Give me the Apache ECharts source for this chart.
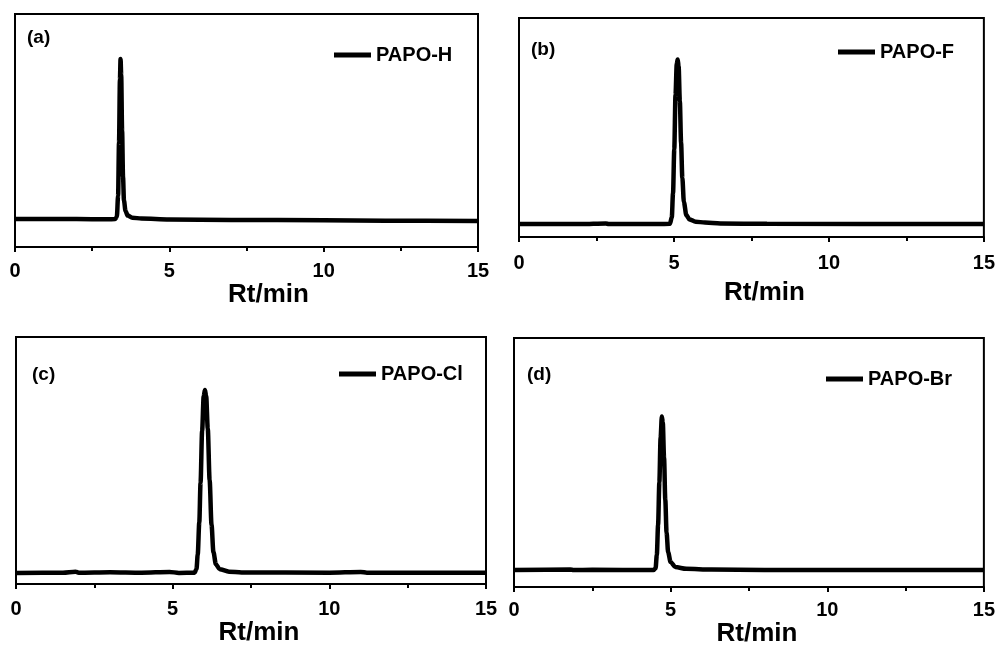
<!DOCTYPE html>
<html>
<head>
<meta charset="utf-8">
<script src="https://cdn.jsdelivr.net/npm/echarts@6/dist/echarts.min.js"></script>
<style>
html,body{margin:0;padding:0;background:#fff;}
#c{width:998px;height:648px;}
</style>
</head>
<body>
<div id="c"></div>
<script>
// Panel labels and series names
var panelLabels = ['(a)', '(b)', '(c)', '(d)'];
var seriesNames = ['PAPO-H', 'PAPO-F', 'PAPO-Cl', 'PAPO-Br'];
var xTicks = [0, 5, 10, 15];
var axisTitle = 'Rt/min';

// Chromatogram traces: [retention time (min), relative intensity (0-100)]
var traceH = [
  [0,12.0],[1,12.0],[2,12.0],[3,11.9],[3.25,12.0],[3.30,13],[3.34,22],[3.37,45],[3.40,72],
  [3.42,80.7],[3.44,74],[3.47,50],[3.50,30],[3.53,20],[3.58,15.5],[3.65,13.5],[3.8,12.6],
  [4.1,12.2],[5,11.8],[7,11.6],[10,11.5],[12,11.3],[15,11.2]
];
var traceF = [
  [0,5.9],[2,5.9],[2.8,6.2],[2.9,5.9],[4.5,5.9],[4.87,6.0],[4.93,9],[4.97,20],[5.01,40],
  [5.05,65],[5.09,79],[5.12,81],[5.15,78],[5.19,62],[5.23,43],[5.27,27],[5.32,16],[5.40,10],
  [5.5,8],[5.7,7],[6.0,6.6],[6.5,6.2],[8,6.0],[15,5.9]
];
var traceCl = [
  [0,4.5],[1.5,4.6],[1.9,5.0],[2.0,4.6],[3,4.8],[4,4.6],[4.9,4.9],[5.2,4.5],[5.7,4.6],
  [5.76,6],[5.80,12],[5.85,25],[5.89,41],[5.94,62],[5.99,76],[6.03,78.5],[6.07,76],[6.12,63],
  [6.18,42],[6.24,24],[6.30,13],[6.38,8],[6.5,6],[6.8,5],[7.2,4.7],[10,4.6],[11,4.9],[11.2,4.6],[15,4.6]
];
var traceBr = [
  [0,6.8],[1.8,7.0],[1.9,6.8],[2.5,6.9],[4.45,6.8],[4.52,7.5],[4.56,13],[4.60,25],[4.64,42],
  [4.68,60],[4.72,68.5],[4.75,66],[4.79,52],[4.83,35],[4.87,22],[4.92,14],[5.0,10],[5.15,8],
  [5.5,7.3],[6.3,7.0],[8,6.8],[15,6.8]
];
var traces = [traceH, traceF, traceCl, traceBr];

// Layout (positions/styles kept separate from data)
var grids = [
  {left:15, top:14, width:463, height:233},
  {left:519, top:18, width:465, height:219},
  {left:16, top:337, width:470, height:247},
  {left:514, top:338, width:472, height:251}
];
var labelMargin = [14, 16, 15, 13];
var nameGaps = [34, 43, 36, 34];
var nameShift = [22, 13, 8, 8];
var legendPos = [
  {left:334, top:45},
  {left:838, top:42},
  {left:339, top:364},
  {left:826, top:369}
];
var titlePos = [
  {left:27, top:28},
  {left:531, top:40},
  {left:32, top:365},
  {left:527, top:365}
];

var FONT = '"Liberation Sans", Arial, sans-serif';
var chart = echarts.init(document.getElementById('c'), null, {renderer:'canvas'});

var option = {
  backgroundColor:'#fff',
  animation:false,
  title: panelLabels.map(function(t,i){
    return {text:t, left:titlePos[i].left, top:titlePos[i].top, padding:0,
      textStyle:{fontFamily:FONT, fontWeight:'bold', fontSize:19, color:'#000'}};
  }),
  legend: seriesNames.map(function(n,i){
    return {data:[n], left:legendPos[i].left, top:legendPos[i].top, padding:0,
      icon:'rect', itemWidth:37, itemHeight:5, itemGap:5, selectedMode:false,
      textStyle:{fontFamily:FONT, fontWeight:'bold', fontSize:20, color:'#000', padding:[0,0,0,0]},
      itemStyle:{color:'#000'}};
  }),
  grid: grids.map(function(g){
    return {left:g.left, top:g.top, width:g.width, height:g.height, show:true,
      borderColor:'#000', borderWidth:2, backgroundColor:'transparent', containLabel:false};
  }),
  xAxis: grids.map(function(g,i){
    return {type:'value', gridIndex:i, min:xTicks[0], max:xTicks[xTicks.length-1], interval:5,
      name:axisTitle, nameLocation:'middle', nameGap:nameGaps[i],
      nameTextStyle:{fontFamily:FONT, fontWeight:'bold', fontSize:26, color:'#000', padding:[0,0,0,nameShift[i]*2]},
      axisLine:{show:true, onZero:false, lineStyle:{color:'#000', width:2}},
      axisTick:{show:true, inside:false, length:5, lineStyle:{color:'#000', width:2}},
      minorTick:{show:true, splitNumber:2, length:4, lineStyle:{color:'#000', width:2}},
      splitLine:{show:false},
      axisLabel:{fontFamily:FONT, fontWeight:'bold', fontSize:20, color:'#000', margin:labelMargin[i]}
    };
  }),
  yAxis: grids.map(function(g,i){
    return {type:'value', gridIndex:i, min:0, max:100,
      axisLine:{show:true, lineStyle:{color:'#000', width:2}},
      axisTick:{show:false}, axisLabel:{show:false}, splitLine:{show:false}};
  }),
  series: traces.map(function(d,i){
    return {type:'line', name:seriesNames[i], xAxisIndex:i, yAxisIndex:i, data:d,
      showSymbol:false, smooth:0.3, smoothMonotone:'x',
      lineStyle:{color:'#000', width:4.5}, itemStyle:{color:'#000'}};
  })
};
chart.setOption(option);
</script>
</body>
</html>
